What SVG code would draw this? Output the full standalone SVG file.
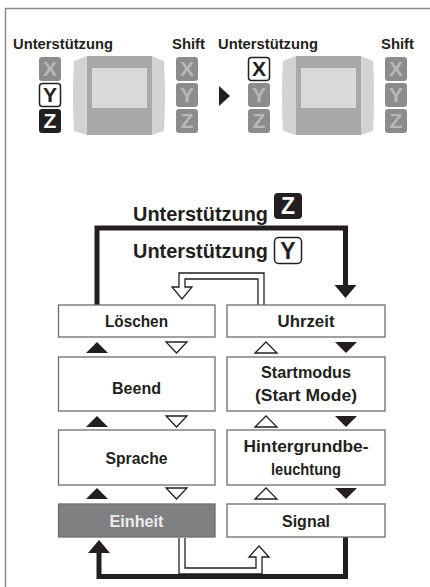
<svg xmlns="http://www.w3.org/2000/svg" width="430" height="587" viewBox="0 0 430 587">
<style>
text{font-family:"Liberation Sans",Arial,sans-serif;font-weight:bold;fill:#231f20}
.lbl{font-size:15.5px}
.big{font-size:21px}
.box{fill:#fff;stroke:#6d6d6d;stroke-width:1.3}
.bt{font-size:17px;text-anchor:middle}
.kg{fill:#8c8c8c}
.kgt{fill:#b8b8b8;font-size:21px;text-anchor:middle}
.kw{fill:#fff;stroke:#231f20;stroke-width:1.5}
.kwt{font-size:21px;text-anchor:middle}
.kb{fill:#231f20}
.kbt{fill:#fff;font-size:21px;text-anchor:middle}
.side{fill:#d3d3d3}
.body{fill:#a9a9a9}
.scr{fill:#d9d9d9}
.thick{fill:none;stroke:#231f20;stroke-width:5}
.hollow{fill:#fff;stroke:#231f20;stroke-width:1.3;stroke-linejoin:miter}
.tf{fill:#231f20}
.th{fill:#fff;stroke:#231f20;stroke-width:1.3}
.frame{fill:none;stroke:#8a8a8a;stroke-width:1.5}
</style>
<path class="frame" d="M5.5,587 V8.5 H430"/>

<g id="state-before">
  <text class="lbl" x="13" y="49" textLength="100" lengthAdjust="spacingAndGlyphs">Unterstützung</text>
  <text class="lbl" x="172" y="49" textLength="33" lengthAdjust="spacingAndGlyphs">Shift</text>
  <path class="side" d="M74,61 L87,56 L87,135 L74,131 Q72,96 74,61 Z"/>
  <path class="side" d="M164,61 L152,56 L152,135 L164,131 Q166,96 164,61 Z"/>
  <rect class="body" x="87" y="56" width="65" height="79"/>
  <rect class="scr" x="92" y="68" width="55" height="40"/>
  <rect class="kg" x="39" y="57" width="22" height="24" rx="3"/>
  <text class="kgt" x="50" y="76">X</text>
  <rect class="kw" x="39.5" y="83.5" width="21" height="23" rx="3"/>
  <text class="kwt" x="50" y="102">Y</text>
  <rect class="kb" x="39" y="109" width="22" height="24" rx="3"/>
  <text class="kbt" x="50" y="128">Z</text>
  <rect class="kg" x="176" y="57" width="22" height="24" rx="3"/>
  <text class="kgt" x="187" y="76">X</text>
  <rect class="kg" x="176" y="83" width="22" height="24" rx="3"/>
  <text class="kgt" x="187" y="102">Y</text>
  <rect class="kg" x="176" y="109" width="22" height="24" rx="3"/>
  <text class="kgt" x="187" y="128">Z</text>
</g>

<g id="state-after">
  <text class="lbl" x="218" y="49" textLength="100" lengthAdjust="spacingAndGlyphs">Unterstützung</text>
  <text class="lbl" x="381" y="49" textLength="33" lengthAdjust="spacingAndGlyphs">Shift</text>
  <path class="tf" d="M219,86 L230,96 L219,106 Z"/>
  <path class="side" d="M283,61 L296,56 L296,135 L283,131 Q281,96 283,61 Z"/>
  <path class="side" d="M373,61 L361,56 L361,135 L373,131 Q375,96 373,61 Z"/>
  <rect class="body" x="296" y="56" width="65" height="79"/>
  <rect class="scr" x="301" y="68" width="55" height="40"/>
  <rect class="kw" x="248.5" y="57.5" width="21" height="23" rx="3"/>
  <text class="kwt" x="259" y="76">X</text>
  <rect class="kg" x="248" y="83" width="22" height="24" rx="3"/>
  <text class="kgt" x="259" y="102">Y</text>
  <rect class="kg" x="248" y="109" width="22" height="24" rx="3"/>
  <text class="kgt" x="259" y="128">Z</text>
  <rect class="kg" x="385" y="57" width="22" height="24" rx="3"/>
  <text class="kgt" x="396" y="76">X</text>
  <rect class="kg" x="385" y="83" width="22" height="24" rx="3"/>
  <text class="kgt" x="396" y="102">Y</text>
  <rect class="kg" x="385" y="109" width="22" height="24" rx="3"/>
  <text class="kgt" x="396" y="128">Z</text>
</g>

<g id="label-z">
  <text class="big" x="133" y="221" textLength="135" lengthAdjust="spacingAndGlyphs">Unterstützung</text>
  <rect class="kb" x="274" y="193" width="28" height="26" rx="4"/>
  <text class="kbt" x="288" y="214" style="font-size:23px">Z</text>
</g>
<g id="label-y">
  <text class="big" x="133" y="258" textLength="135" lengthAdjust="spacingAndGlyphs">Unterstützung</text>
  <rect class="kw" x="274.5" y="237.5" width="27" height="26" rx="4"/>
  <text class="kwt" x="288" y="259" style="font-size:23px">Y</text>
</g>

<g id="connectors">
  <path class="thick" d="M97,305 V228 H345.5 V286"/>
  <path class="tf" d="M334.5,285 L356.5,285 L345.5,298 Z"/>
  <path class="hollow" d="M264,305 V273 H179 V287 H172 L182,299 L192,287 H185 V279 H258 V305"/>
  <path class="thick" d="M345.5,537 V576.5 H99 V552"/>
  <path class="tf" d="M88,553 L110,553 L99,540 Z"/>
  <path class="hollow" d="M179,538 V574 H262 V557 H269 L259,546 L249,557 H256 V568 H185 V538"/>
  <path class="tf" d="M86,353 L108,353 L97,342 Z"/>
  <path class="th" d="M166,342 L187,342 L176.5,353 Z"/>
  <path class="th" d="M255,353 L277,353 L266,342 Z"/>
  <path class="tf" d="M335,342 L357,342 L346,353 Z"/>
  <path class="tf" d="M86,427 L108,427 L97,416 Z"/>
  <path class="th" d="M166,416 L187,416 L176.5,427 Z"/>
  <path class="th" d="M255,427 L277,427 L266,416 Z"/>
  <path class="tf" d="M335,416 L357,416 L346,427 Z"/>
  <path class="tf" d="M86,499 L108,499 L97,488 Z"/>
  <path class="th" d="M166,488 L187,488 L176.5,499 Z"/>
  <path class="th" d="M255,499 L277,499 L266,488 Z"/>
  <path class="tf" d="M335,488 L357,488 L346,499 Z"/>
</g>

<g id="loeschen"><rect class="box" x="58.5" y="305" width="156.5" height="32"/><text class="bt" x="136.5" y="327" textLength="63" lengthAdjust="spacingAndGlyphs">Löschen</text></g>
<g id="uhrzeit"><rect class="box" x="227" y="305" width="158" height="32"/><text class="bt" x="306" y="327" textLength="57" lengthAdjust="spacingAndGlyphs">Uhrzeit</text></g>
<g id="beend"><rect class="box" x="58.5" y="357" width="156.5" height="54"/><text class="bt" x="136.5" y="394" textLength="49" lengthAdjust="spacingAndGlyphs">Beend</text></g>
<g id="startmodus"><rect class="box" x="227" y="357" width="158" height="54"/><text class="bt" x="306" y="378" textLength="90" lengthAdjust="spacingAndGlyphs">Startmodus</text><text class="bt" x="306" y="401" textLength="102" lengthAdjust="spacingAndGlyphs">(Start Mode)</text></g>
<g id="sprache"><rect class="box" x="58.5" y="430" width="156.5" height="55"/><text class="bt" x="136.5" y="464" textLength="62" lengthAdjust="spacingAndGlyphs">Sprache</text></g>
<g id="hintergrund"><rect class="box" x="227" y="430" width="158" height="55"/><text class="bt" x="306" y="452" textLength="125" lengthAdjust="spacingAndGlyphs">Hintergrundbe-</text><text class="bt" x="306" y="475" textLength="70" lengthAdjust="spacingAndGlyphs">leuchtung</text></g>
<g id="einheit"><rect x="58.5" y="504" width="156.5" height="33" fill="#808083" stroke="#6d6d6d" stroke-width="1.3"/><text class="bt" x="136.5" y="527" textLength="54" lengthAdjust="spacingAndGlyphs" style="fill:#ececec">Einheit</text></g>
<g id="signal"><rect class="box" x="227" y="504" width="158" height="33"/><text class="bt" x="306" y="527" textLength="48" lengthAdjust="spacingAndGlyphs">Signal</text></g>
</svg>
